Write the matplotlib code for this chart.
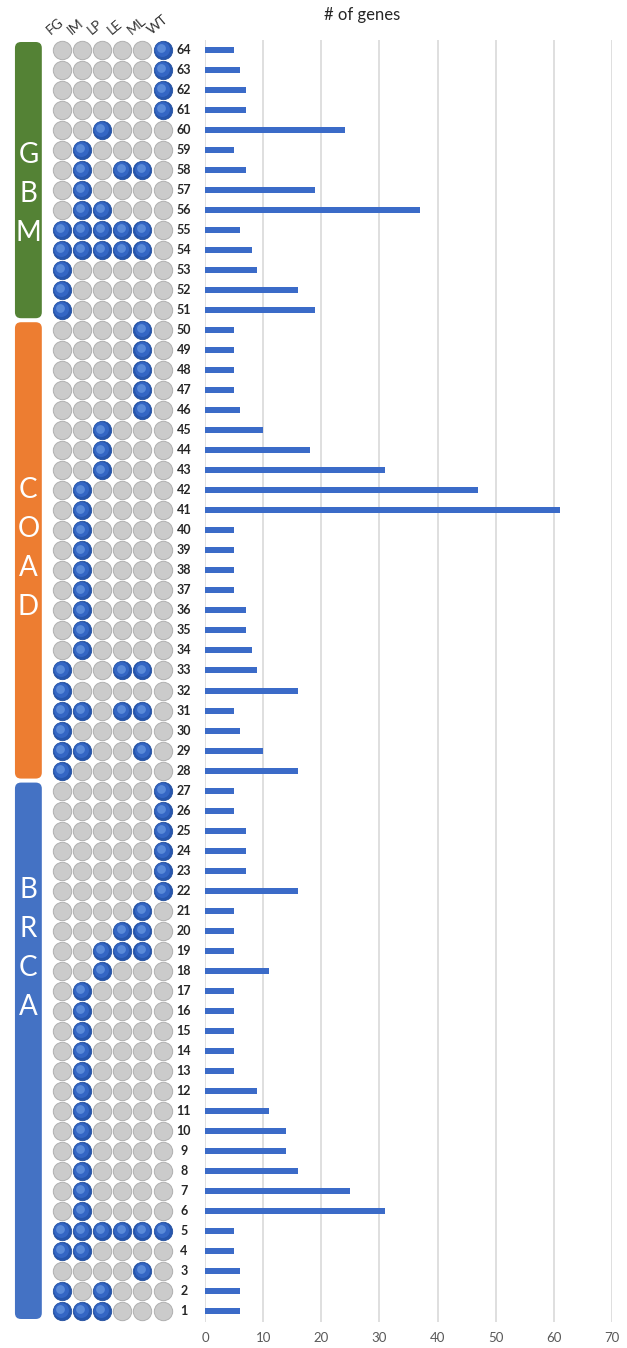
import matplotlib
matplotlib.use("Agg")
import matplotlib.pyplot as plt
from matplotlib.patches import FancyBboxPatch

plt.rcParams['font.family'] = ['Lato', 'DejaVu Sans']

# data
rows = list(range(1, 65))
genes = [6, 6, 6, 5, 5, 31, 25, 16, 14, 14, 11, 9, 5, 5, 5, 5, 5, 11, 5, 5,
         5, 16, 7, 7, 7, 5, 5, 16, 10, 6, 5, 16, 9, 8, 7, 7, 5, 5, 5, 5,
         61, 47, 31, 18, 10, 6, 5, 5, 5, 5, 19, 16, 9, 8, 6, 37, 19, 7, 5, 24,
         7, 7, 6, 5]

features = ["FG", "IM", "LP", "LE", "ML", "WT"]
# one string per row (row 1 first), 1 = feature present
profiles = [
    "111000", "101000", "000010", "110000", "111111",
    "010000", "010000", "010000", "010000", "010000", "010000",
    "010000", "010000", "010000", "010000", "010000", "010000",
    "001000", "001110", "000110", "000010",
    "000001", "000001", "000001", "000001", "000001", "000001",
    "100000", "110010", "100000", "110110", "100000", "100110",
    "010000", "010000", "010000", "010000", "010000", "010000",
    "010000", "010000", "010000",
    "001000", "001000", "001000",
    "000010", "000010", "000010", "000010", "000010",
    "100000", "100000", "100000",
    "111110", "111110", "011000", "010000", "010110", "010000", "001000",
    "000001", "000001", "000001", "000001",
]

groups = ["BRCA", "COAD", "GBM"]
group_first = [1, 28, 51]
group_last = [27, 50, 64]
group_colors = ["#4472c4", "#ed7d31", "#548235"]
letter_center = [19.1, 39.1, 56.8]

W, H = 627, 1348
fig = plt.figure(figsize=(W / 100, H / 100), dpi=100)


def px_axes(x0, y0, x1, y1):
    return fig.add_axes([x0 / W, 1 - y1 / H, (x1 - x0) / W, (y1 - y0) / H])


ylim = (0.45, 64.5)

# bar chart
ax = px_axes(205, 40, 612, 1322)
ax.barh(rows, genes, height=0.3, color="#3b6bc8", zorder=3)
ax.set_xlim(0, 70)
ax.set_ylim(*ylim)
ax.set_xticks(range(0, 80, 10))
ax.set_yticks([])
ax.grid(axis="x", color="#d9d9d9", linewidth=1.2, zorder=0)
for s in ax.spines.values():
    s.set_visible(False)
ax.tick_params(axis="x", length=0, pad=7, labelsize=9.5, labelcolor="#595959")
ax.text(0.386, 1.0 + 25 / 1282, "# of genes", transform=ax.transAxes,
        ha="center", va="center", fontsize=12, color="#262626")

# dot matrix
am = px_axes(0, 40, 200, 1322)
am.set_xlim(-3.05, 6.85)
am.set_ylim(*ylim)
am.axis("off")

on_x, on_y, off_x, off_y = [], [], [], []
for r, prof in zip(rows, profiles):
    for j, c in enumerate(prof):
        if c == "1":
            on_x.append(j)
            on_y.append(r)
        else:
            off_x.append(j)
            off_y.append(r)

am.scatter(off_x, off_y, s=175, color="#cbcbcb", edgecolors="#b0b0b0",
           linewidths=0.7, zorder=2)
am.scatter(on_x, on_y, s=175, color="#2756ad", edgecolors="#23509f",
           linewidths=0.6, zorder=3)
am.scatter([x - 0.04 for x in on_x], [y + 0.05 for y in on_y], s=115,
           color="#3466c4", linewidths=0, zorder=4)
am.scatter([x - 0.08 for x in on_x], [y + 0.09 for y in on_y], s=40,
           color="#5a8ad8", linewidths=0, zorder=5)

for r in rows:
    am.text(6.05, r, str(r), ha="center", va="center", fontsize=9,
            color="#262626", fontweight="bold")

for j, f in enumerate(features):
    am.text(j - 0.45, 64.65, f, rotation=40, rotation_mode="anchor",
            ha="left", va="bottom", fontsize=10, color="#333333")

# group bars
for g, a, b, col, lc in zip(groups, group_first, group_last, group_colors, letter_center):
    box = FancyBboxPatch((-2.31, a - 0.4), 1.33, b - a + 0.8,
                         boxstyle="round,pad=0,rounding_size=0.3",
                         facecolor=col, edgecolor="none", zorder=1)
    am.add_patch(box)
    n = len(g)
    for k, ch in enumerate(g):
        yy = lc + (n - 1) / 2 * 1.95 - k * 1.95
        am.text(-1.645, yy, ch, ha="center", va="center", fontsize=20,
                color="white")

fig.savefig("out.png", dpi=100)
